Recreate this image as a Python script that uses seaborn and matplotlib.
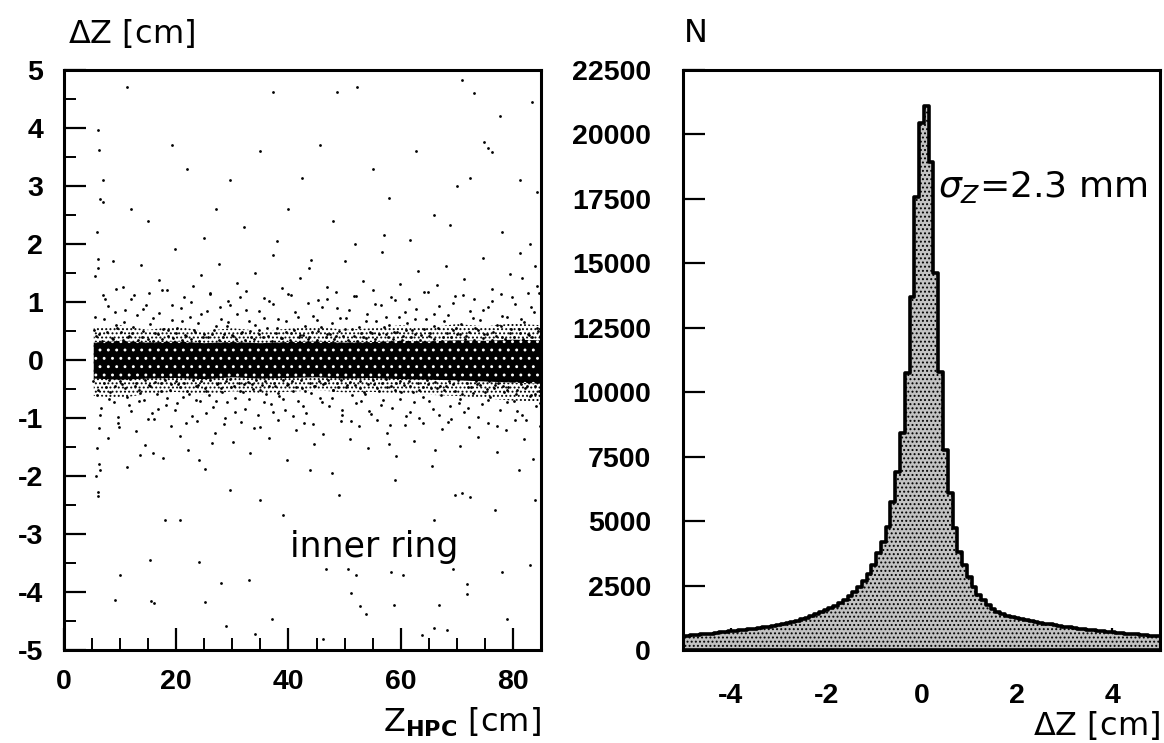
import numpy as np
import pandas as pd
import seaborn as sns
import matplotlib
matplotlib.use("Agg")
import matplotlib.pyplot as plt
from matplotlib.ticker import MultipleLocator
from matplotlib.font_manager import FontProperties

# ---- histogram of residuals (bin centres every 0.1 cm from -5 to 5) ----
dz_counts = [
    540, 555, 570, 590, 605, 625, 640, 660, 680, 700,
    720, 740, 760, 780, 800, 825, 850, 880, 910, 940,
    975, 1010, 1050, 1090, 1140, 1190, 1250, 1310, 1380, 1460,
    1540, 1630, 1720, 1830, 1950, 2090, 2250, 2440, 2680, 2960,
    3300, 3750, 4200, 4780, 5750, 6900, 8420, 10750, 13690, 17570,
    20440, 21100, 18930, 14620, 10780, 7760, 6090, 4730, 3810, 3300,
    2840, 2460, 2130, 1940, 1750, 1580, 1490, 1400, 1320, 1270,
    1230, 1190, 1150, 1120, 1080, 1050, 1020, 990, 960, 930,
    910, 880, 860, 830, 810, 790, 770, 750, 730, 710,
    690, 670, 650, 640, 620, 610, 590, 580, 560, 550, 530,
]
dz_centres = np.round(np.linspace(-5.0, 5.0, len(dz_counts)), 2)

# ---- scatter: dense band, edges read every 5 cm ----
core_z = [5.3, 10, 15, 20, 25, 30, 35, 40, 45, 50, 55, 60, 65, 70, 75, 80, 85]
core_hi = [0.30, 0.33, 0.30, 0.32, 0.29, 0.31, 0.29, 0.31, 0.32, 0.30, 0.31, 0.33, 0.32, 0.34, 0.33, 0.35, 0.34]
core_lo = [-0.32, -0.34, -0.32, -0.31, -0.33, -0.30, -0.32, -0.31, -0.30, -0.32, -0.31, -0.33, -0.34, -0.35, -0.37, -0.39, -0.41]
outer_hi = [0.55, 0.60, 0.52, 0.58, 0.50, 0.55, 0.50, 0.54, 0.58, 0.52, 0.55, 0.60, 0.56, 0.62, 0.58, 0.63, 0.60]
outer_lo = [-0.62, -0.66, -0.58, -0.55, -0.60, -0.54, -0.57, -0.55, -0.52, -0.56, -0.55, -0.58, -0.60, -0.62, -0.66, -0.70, -0.72]

# halo just outside the band
halo = [
    (5.4, 0.52), (5.9, -0.61), (6.3, 0.44), (6.6, -0.83), (7.1, 0.71), (7.4, -0.47), (7.8, 0.93), (8.2, -0.55), (8.5, 0.38), (8.9, -0.72),
    (9.2, 0.61), (9.6, -0.98), (10.1, 0.49), (10.3, -0.41), (10.8, 0.86), (11.2, -0.63), (11.5, 0.42), (11.9, -0.88), (12.3, 0.57), (12.6, -0.45),
    (13.0, 0.77), (13.4, -0.52), (13.9, 0.40), (14.2, -0.69), (14.6, 0.95), (15.1, -0.43), (15.4, 0.62), (15.7, -0.91), (16.2, 0.46), (16.5, -0.58),
    (17.0, 0.81), (17.3, -0.39), (17.7, 0.53), (18.2, -0.77), (18.5, 0.41), (18.8, -0.51), (19.3, 0.69), (19.7, -0.86), (20.0, 0.47), (20.4, -0.42),
    (20.9, 0.89), (21.2, -0.64), (21.6, 0.43), (22.0, -0.54), (22.4, 0.74), (22.8, -0.96), (23.1, 0.51), (23.6, -0.44), (23.9, 0.63), (24.3, -0.71),
    (24.7, 0.39), (25.1, -0.49), (25.5, 0.84), (25.8, -0.60), (26.3, 0.45), (26.6, -0.81), (27.0, 0.58), (27.5, -0.40), (27.8, 0.92), (28.1, -0.56),
    (28.6, 0.44), (29.0, -0.73), (29.3, 0.66), (29.8, -0.46), (30.2, 0.41), (30.5, -0.89), (30.9, 0.79), (31.4, -0.53), (31.7, 0.48), (32.1, -0.42),
    (32.5, 0.87), (32.9, -0.67), (33.3, 0.40), (33.7, -0.50), (34.0, 0.61), (34.5, -0.94), (34.8, 0.52), (35.2, -0.43), (35.7, 0.73), (36.0, -0.58),
    (36.4, 0.42), (36.9, -0.76), (37.2, 0.96), (37.6, -0.45), (38.0, 0.55), (38.4, -0.62), (38.8, 0.38), (39.3, -0.87), (39.6, 0.68), (40.0, -0.41),
    (40.5, 0.47), (40.8, -0.54), (41.2, 0.83), (41.7, -0.70), (42.0, 0.43), (42.4, -0.48), (42.9, 0.59), (43.2, -0.92), (43.6, 0.40), (44.1, -0.57),
    (44.4, 0.76), (44.8, -0.44), (45.3, 0.50), (45.6, -0.66), (46.0, 0.91), (46.5, -0.39), (46.8, 0.45), (47.2, -0.80), (47.7, 0.63), (48.0, -0.52),
    (48.4, 0.41), (48.9, -0.46), (49.2, 0.72), (49.6, -0.95), (50.1, 0.54), (50.4, -0.43), (50.8, 0.86), (51.3, -0.61), (51.6, 0.42), (52.0, -0.74),
    (52.5, 0.57), (52.8, -0.49), (53.2, 0.39), (53.7, -0.58), (54.0, 0.80), (54.4, -0.88), (54.9, 0.46), (55.2, -0.41), (55.6, 0.67), (56.1, -0.53),
    (56.4, 0.94), (56.8, -0.69), (57.3, 0.44), (57.6, -0.47), (58.0, 0.60), (58.5, -0.83), (58.8, 0.49), (59.2, -0.40), (59.7, 0.75), (60.0, -0.56),
    (60.4, 0.41), (60.9, -0.97), (61.2, 0.64), (61.6, -0.45), (62.1, 0.52), (62.4, -0.72), (62.8, 0.88), (63.3, -0.51), (63.6, 0.43), (64.0, -0.63),
    (64.5, 0.70), (64.8, -0.42), (65.2, 0.47), (65.7, -0.85), (66.0, 0.58), (66.4, -0.48), (66.9, 0.93), (67.2, -0.60), (67.6, 0.40), (68.1, -0.44),
    (68.4, 0.78), (68.8, -0.79), (69.3, 0.51), (69.6, -0.53), (70.0, 0.45), (70.5, -0.67), (70.8, 0.62), (71.2, -0.90), (71.7, 0.42), (72.0, -0.46),
    (72.4, 0.85), (72.9, -0.57), (73.2, 0.55), (73.6, -0.41), (74.1, 0.69), (74.4, -0.76), (74.8, 0.44), (75.3, -0.50), (75.6, 0.91), (76.0, -0.64),
    (76.5, 0.48), (76.8, -0.43), (77.2, 0.61), (77.7, -0.86), (78.0, 0.40), (78.4, -0.55), (78.9, 0.74), (79.2, -0.47), (79.6, 0.53), (80.1, -0.70),
    (80.4, 0.97), (80.8, -0.52), (81.3, 0.46), (81.6, -0.94), (82.0, 0.66), (82.5, -0.45), (82.8, 0.43), (83.2, -0.61), (83.7, 0.82), (84.0, -0.58),
    (84.4, 0.50), (84.8, -0.74),
    (5.2, -0.36), (5.7, 0.41), (6.1, -0.52), (6.8, 0.33), (7.2, -0.39), (7.6, 0.48), (8.0, -0.34), (8.7, 0.37), (9.0, -0.44), (9.4, 0.55),
    (9.9, -0.37), (10.5, 0.35), (10.9, -0.49), (11.4, 0.39), (11.7, -0.33), (12.1, 0.46), (12.8, -0.40), (13.2, 0.34), (13.6, -0.57), (14.0, 0.50),
    (14.4, -0.35), (14.9, 0.37), (15.3, -0.45), (15.9, 0.33), (16.3, -0.38), (16.8, 0.44), (17.2, -0.53), (17.5, 0.36), (18.0, -0.34), (18.6, 0.51),
    (19.0, -0.42), (19.5, 0.38), (19.9, -0.36), (20.2, 0.56), (20.7, -0.47), (21.1, 0.34), (21.4, -0.39), (21.8, 0.42), (22.2, -0.58), (22.6, 0.37),
    (23.0, -0.35), (23.4, 0.49), (23.8, -0.43), (24.1, 0.33), (24.5, -0.37), (24.9, 0.45), (25.3, -0.54), (25.7, 0.39), (26.1, -0.34), (26.8, 0.52),
    (27.2, -0.41), (27.6, 0.35), (28.0, -0.48), (28.4, 0.40), (28.8, -0.36), (29.1, 0.58), (29.5, -0.33), (30.0, 0.43), (30.3, -0.45), (30.7, 0.36),
    (31.1, -0.39), (31.5, 0.47), (31.9, -0.55), (32.3, 0.34), (32.7, -0.38), (33.1, 0.50), (33.5, -0.42), (33.9, 0.37), (34.3, -0.35), (34.7, 0.44),
    (35.0, -0.51), (35.4, 0.39), (35.9, -0.36), (36.2, 0.55), (36.6, -0.44), (37.0, 0.33), (37.4, -0.40), (37.8, 0.46), (38.2, -0.57), (38.6, 0.38),
    (39.0, -0.34), (39.5, 0.49), (39.8, -0.43), (40.2, 0.35), (40.6, -0.37), (41.0, 0.52), (41.4, -0.46), (41.9, 0.40), (42.2, -0.35), (42.6, 0.43),
    (43.0, -0.53), (43.4, 0.36), (43.8, -0.39), (44.2, 0.48), (44.6, -0.44), (45.0, 0.34), (45.4, -0.37), (45.8, 0.57), (46.2, -0.41), (46.6, 0.39),
    (47.0, -0.35), (47.4, 0.45), (47.9, -0.52), (48.2, 0.37), (48.6, -0.40), (49.0, 0.50), (49.4, -0.34), (49.8, 0.42), (50.2, -0.47), (50.6, 0.35),
    (51.0, -0.38), (51.4, 0.54), (51.8, -0.43), (52.2, 0.33), (52.7, -0.36), (53.0, 0.46), (53.4, -0.55), (53.9, 0.38), (54.2, -0.41), (54.6, 0.49),
    (55.0, -0.35), (55.4, 0.36), (55.8, -0.48), (56.2, 0.44), (56.6, -0.39), (57.0, 0.57), (57.4, -0.33), (57.8, 0.40), (58.2, -0.45), (58.6, 0.37),
    (59.0, -0.52), (59.4, 0.48), (59.9, -0.37), (60.2, 0.34), (60.6, -0.43), (61.0, 0.51), (61.4, -0.36), (61.8, 0.39), (62.2, -0.56), (62.6, 0.45),
    (63.0, -0.40), (63.4, 0.35), (63.9, -0.46), (64.2, 0.53), (64.6, -0.34), (65.0, 0.41), (65.4, -0.49), (65.9, 0.36), (66.2, -0.38), (66.6, 0.55),
    (67.0, -0.44), (67.4, 0.33), (67.8, -0.51), (68.2, 0.47), (68.6, -0.36), (69.0, 0.39), (69.4, -0.42), (69.8, 0.56), (70.2, -0.35), (70.6, 0.44),
    (71.0, -0.58), (71.4, 0.37), (71.9, -0.40), (72.2, 0.49), (72.6, -0.47), (73.0, 0.34), (73.4, -0.36), (73.8, 0.52), (74.2, -0.43), (74.6, 0.38),
    (75.0, -0.55), (75.4, 0.45), (75.8, -0.37), (76.2, 0.35), (76.6, -0.48), (77.0, 0.42), (77.4, -0.39), (77.9, 0.58), (78.2, -0.44), (78.6, 0.36),
    (79.0, -0.52), (79.4, 0.47), (79.8, -0.35), (80.2, 0.40), (80.6, -0.58), (81.0, 0.53), (81.4, -0.41), (81.8, 0.37), (82.2, -0.49), (82.6, 0.44),
    (83.0, -0.62), (83.4, 0.39), (83.9, -0.45), (84.2, 0.55), (84.6, -0.53), (84.9, 0.41),
]

# fringe between band and sparse region (0.6-1.2 cm)
fringe = [
    (5.5, 0.75), (6.4, -0.95), (7.3, 1.05), (8.1, -0.68), (9.0, 0.82), (9.8, -1.15), (10.7, 0.66), (11.6, -0.78), (12.5, 1.12), (13.3, -0.70),
    (14.1, 0.88), (15.0, -1.02), (15.9, 0.72), (16.7, -0.84), (17.5, 1.20), (18.4, -0.66), (19.2, 0.95), (20.1, -0.74), (21.0, 0.68), (21.8, -1.08),
    (22.7, 1.00), (23.5, -0.69), (24.4, 0.80), (25.3, -0.92), (26.1, 1.16), (27.0, -0.71), (27.9, 0.70), (28.7, -1.00), (29.6, 0.94), (30.4, -0.66),
    (31.3, 1.08), (32.2, -0.85), (33.0, 0.67), (33.9, -1.18), (34.7, 0.85), (35.6, -0.72), (36.5, 1.02), (37.3, -0.90), (38.2, 0.71), (39.1, -0.68),
    (39.9, 1.14), (40.8, -0.97), (41.7, 0.75), (42.5, -0.80), (43.4, 0.98), (44.3, -1.10), (45.1, 0.69), (46.0, -0.73), (46.9, 1.06), (47.7, -0.66),
    (48.6, 0.90), (49.5, -0.86), (50.3, 0.73), (51.2, -1.05), (52.1, 1.10), (52.9, -0.70), (53.8, 0.68), (54.7, -0.93), (55.5, 0.96), (56.4, -0.77),
    (57.3, 0.74), (58.1, -1.12), (59.0, 1.04), (59.9, -0.67), (60.7, 0.83), (61.6, -0.89), (62.5, 0.70), (63.3, -1.00), (64.2, 1.18), (65.1, -0.71),
    (65.9, 0.79), (66.8, -0.95), (67.7, 0.68), (68.5, -1.07), (69.4, 0.99), (70.3, -0.74), (71.1, 1.12), (72.0, -0.82), (72.9, 0.72), (73.7, -0.99),
    (74.6, 0.86), (75.5, -0.69), (76.3, 1.01), (77.2, -1.14), (78.1, 0.76), (78.9, -0.72), (79.8, 1.09), (80.7, -0.88), (81.5, 0.71), (82.4, -1.03),
    (83.3, 0.92), (84.1, -0.80), (84.7, 1.15),
]

# sparser points at 1-2 cm
middle = [
    (5.6, 1.45), (6.0, 1.58), (5.8, -1.52), (6.2, -1.18), (7.0, 1.12), (7.9, -1.35), (8.8, 1.71), (9.7, -1.08), (10.6, 1.26), (11.3, -1.84),
    (12.0, 1.05), (12.9, -1.22), (13.8, 1.63), (14.5, -1.47), (15.2, 1.15), (16.0, -1.02), (16.9, 1.38), (17.6, -1.69), (18.3, 1.21), (19.1, -1.13),
    (19.8, 1.92), (20.6, -1.31), (21.3, 1.09), (22.1, -1.56), (22.9, 1.28), (23.7, -1.05), (24.4, 1.47), (25.2, -1.88), (26.0, 1.14), (26.9, -1.25),
    (27.7, 1.66), (28.5, -1.11), (29.2, 1.02), (30.1, -1.42), (30.8, 1.33), (31.6, -1.07), (32.4, 1.19), (33.2, -1.61), (34.1, 1.50), (34.9, -1.16),
    (35.6, 1.07), (36.5, -1.34), (37.3, 1.81), (38.1, -1.04), (38.9, 1.24), (39.7, -1.73), (40.4, 1.12), (41.3, -1.20), (42.1, 1.41), (42.8, -1.09),
    (43.7, 1.59), (44.5, -1.45), (45.2, 1.04), (46.1, -1.28), (46.9, 1.26), (47.8, -1.95), (48.5, 1.18), (49.3, -1.06), (50.0, 1.70), (50.9, -1.37),
    (51.7, 1.10), (52.6, -1.14), (53.3, 1.36), (54.1, -1.52), (55.0, 1.21), (55.8, -1.03), (56.7, 1.87), (57.5, -1.26), (58.3, 1.08), (59.1, -1.66),
    (59.9, 1.31), (60.8, -1.12), (61.5, 1.05), (62.3, -1.40), (63.1, 1.54), (64.0, -1.08), (64.8, 1.17), (65.6, -1.83), (66.5, 1.29), (67.3, -1.19),
    (68.0, 1.62), (68.9, -1.02), (69.7, 1.11), (70.5, -1.48), (71.3, 1.39), (72.2, -1.15), (73.0, 1.06), (73.8, -1.32), (74.7, 1.76), (75.5, -1.09),
    (76.3, 1.23), (77.1, -1.58), (77.9, 1.13), (78.8, -1.21), (79.5, 1.49), (80.3, -1.04), (81.2, 1.85), (82.0, -1.36), (82.7, 1.16), (83.5, -1.71),
    (84.3, 1.27), (84.9, -1.13), (83.9, 1.62), (81.7, 1.42), (9.3, 1.22), (15.8, -1.61), (26.4, -1.43), (44.0, 1.72), (57.9, -1.44), (66.1, -1.55),
]

# far outliers
outliers = [
    (11.2, 4.70), (37.3, 4.62), (48.7, 4.62), (52.2, 4.70), (71.0, 4.83), (73.0, 4.60), (83.4, 4.45), (77.7, 4.20),
    (6.0, 3.97), (6.3, 3.62), (6.5, 2.78), (6.9, 2.72), (5.8, 2.20), (6.1, 1.75), (5.7, -2.00), (6.0, -2.35), (6.2, -1.80),
    (19.3, 3.70), (29.6, 3.10), (35.0, 3.60), (42.4, 3.14), (45.6, 3.70), (51.9, 2.00), (58.0, 2.80), (62.7, 3.60),
    (74.9, 3.76), (75.5, 3.66), (76.3, 3.59), (72.4, 3.14), (81.3, 3.10), (84.3, 2.90), (7.0, 3.10), (15.0, 2.40),
    (25.0, 2.10), (61.7, 2.07), (68.8, 2.33), (83.0, 2.00), (12.0, 2.60), (22.0, 3.30), (32.0, 2.30), (40.0, 2.60),
    (55.0, 3.30), (66.0, 2.50), (78.0, 2.20), (48.0, 2.40), (27.0, 2.60), (38.0, 2.05), (57.0, 2.15), (70.0, 3.00),
    (6.4, -1.90), (6.0, -2.28), (18.0, -2.76), (13.5, -1.64), (24.0, -1.72), (20.7, -2.76), (29.6, -2.24), (35.0, -2.41),
    (39.0, -2.67), (43.8, -1.90), (49.0, -2.33), (54.5, -3.10), (59.0, -2.07), (61.7, -3.36), (66.0, -2.76), (69.7, -2.33),
    (71.0, -2.30), (72.4, -2.36), (76.8, -2.59), (81.0, -1.90), (84.0, -2.41), (10.0, -3.70), (15.3, -3.45), (33.0, -3.80),
    (9.0, -4.13), (15.5, -4.15), (16.0, -4.19), (25.2, -4.18), (27.9, -3.84), (28.8, -4.58), (34.1, -4.73), (37.1, -4.47),
    (46.2, -4.81), (46.7, -3.61), (50.6, -3.61), (52.1, -3.71), (51.1, -4.01), (52.8, -4.24), (53.9, -4.38), (58.2, -3.66),
    (60.4, -3.71), (58.8, -4.22), (63.8, -4.74), (65.9, -4.62), (66.8, -4.23), (68.3, -4.66), (69.3, -3.61), (71.9, -3.87),
    (71.9, -4.04), (78.0, -3.65), (78.9, -4.47), (83.1, -3.54), (24.0, -3.49),
]

points = pd.DataFrame(halo + fringe + middle + outliers, columns=["z_hpc", "dz"])
hist = pd.DataFrame({"dz": dz_centres, "n": dz_counts})

sns.set_style("ticks", {"axes.edgecolor": "black", "xtick.color": "black", "ytick.color": "black",
                        "text.color": "black", "axes.labelcolor": "black"})
plt.rcParams["font.family"] = ["DejaVu Sans"]
plt.rcParams["axes.unicode_minus"] = False
plt.rcParams["hatch.linewidth"] = 0.9

tick_font = dict(family="Liberation Sans", weight="bold", size=20.5)
label_font = dict(family="DejaVu Sans", size=23)

fig = plt.figure(figsize=(11.64, 7.43), dpi=100)
ax1 = fig.add_axes([64 / 1164, 93 / 743, 477 / 1164, 580 / 743])
ax2 = fig.add_axes([683 / 1164, 93 / 743, 477 / 1164, 580 / 743])

# left: scatter (band drawn as halftone layers, sparse points on top)
ax1.fill_between(core_z, outer_lo, outer_hi, facecolor="white", edgecolor="black",
                 hatch="....", linewidth=0, zorder=1)
ax1.fill_between(core_z, core_lo, core_hi, facecolor="black", edgecolor="white",
                 hatch="..", linewidth=0, zorder=1.5)
sns.scatterplot(data=points, x="z_hpc", y="dz", ax=ax1, s=4, color="black",
                linewidth=0, marker="o", zorder=2)
ax1.set_xlim(0, 85)
ax1.set_ylim(-5, 5)
ax1.xaxis.set_major_locator(MultipleLocator(20))
ax1.xaxis.set_minor_locator(MultipleLocator(5))
ax1.yaxis.set_major_locator(MultipleLocator(1))
ax1.yaxis.set_minor_locator(MultipleLocator(0.5))
ax1.text(40.3, -3.4, "inner ring", fontsize=25, family="DejaVu Sans", va="baseline")

# right: histogram
sns.histplot(data=hist, x="dz", weights="n", binwidth=0.1, binrange=(-5.05, 5.05),
             element="step", fill=True, color="#c2c2c2", alpha=1.0,
             edgecolor="black", linewidth=2.6, ax=ax2)
ax2.collections[0].set_hatch("....")
ax2.set_xlim(-5, 5)
ax2.set_ylim(0, 22500)
ax2.xaxis.set_major_locator(MultipleLocator(2))
ax2.xaxis.set_minor_locator(MultipleLocator(0.5))
ax2.yaxis.set_major_locator(MultipleLocator(2500))
ax2.text(0.35, 17570, r"$\sigma_Z$=2.3 mm", fontsize=26, family="DejaVu Sans", va="baseline")

for ax in (ax1, ax2):
    ax.set_xlabel("")
    ax.set_ylabel("")
    for side in ax.spines.values():
        side.set_linewidth(2.2)
        side.set_visible(True)
    ax.tick_params(which="major", direction="in", length=16, width=1.6, top=False, right=False)
    ax.tick_params(which="minor", direction="in", length=8.5, width=1.4, top=False, right=False)
    for lab in ax.get_xticklabels() + ax.get_yticklabels():
        lab.set_fontproperties(FontProperties(**tick_font))

ax1.tick_params(axis="y", pad=15)
ax1.tick_params(axis="x", pad=14)
ax2.tick_params(axis="y", pad=23, which="both")
ax2.tick_params(axis="x", pad=24)
ax2.tick_params(axis="y", which="minor", length=0)

fig.text(68 / 1164, 1 - 33 / 743, r"$\Delta$Z [cm]", va="center", ha="left", **label_font)
fig.text(684 / 1164, 1 - 33 / 743, "N", va="center", ha="left", **label_font)
fig.text(541 / 1164, 1 - 722 / 743, r"Z$_{\mathbf{HPC}}$ [cm]", va="center", ha="right", **label_font)
fig.text(1160 / 1164, 1 - 726 / 743, r"$\Delta$Z [cm]", va="center", ha="right", **label_font)

fig.savefig("out.png", dpi=100)
